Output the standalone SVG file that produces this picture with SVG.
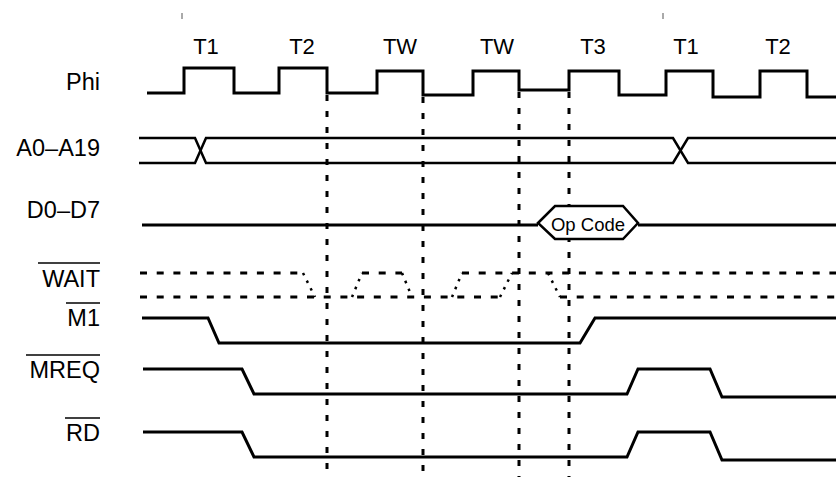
<svg xmlns="http://www.w3.org/2000/svg" width="836" height="477" viewBox="0 0 836 477">
<style>
text{font-family:"Liberation Sans",Arial,sans-serif;fill:#000}
.lbl{font-size:23.5px;text-anchor:end}
.top{font-size:22px;text-anchor:middle}
.sig{fill:none;stroke:#000;stroke-width:3;stroke-linejoin:miter}
.bus{fill:none;stroke:#000;stroke-width:2.5}
.hex{fill:#fff;stroke:#000;stroke-width:2.5}
.vdash{stroke:#000;stroke-width:3;stroke-dasharray:6 10}
.hdash{stroke:#000;stroke-width:3;stroke-dasharray:7 9.7}
.dot{stroke:#000;stroke-width:2.5;stroke-dasharray:2.5 6}
.ov{stroke:#000;stroke-width:1.5}
.tick{stroke:#555;stroke-width:1}
</style>
<g id="cycle-labels">
<line class="tick" x1="182" y1="13" x2="182" y2="19"/>
<line class="tick" x1="663" y1="13" x2="663" y2="19"/>
<text class="top" x="206" y="54">T1</text>
<text class="top" x="302" y="54">T2</text>
<text class="top" x="400" y="54">TW</text>
<text class="top" x="497" y="54">TW</text>
<text class="top" x="593" y="54">T3</text>
<text class="top" x="686" y="54">T1</text>
<text class="top" x="778" y="54">T2</text>
</g>
<g id="connectors">
<line class="vdash" x1="327" y1="95" x2="327" y2="477"/>
<line class="vdash" x1="423" y1="97" x2="423" y2="477"/>
<line class="vdash" x1="519" y1="92" x2="519" y2="477"/>
<line class="vdash" x1="569" y1="92" x2="569" y2="477"/>
</g>
<g id="phi">
<text class="lbl" x="100" y="90">Phi</text>
<path class="sig" d="M147 93 H184 V68 H234 V93 H279 V68 H327 V93 H377 V71 H423 V95 H473 V71 H519 V90 H569 V71 H619 V95 H666 V71 H713 V97 H760 V71 H807 V97 H836"/>
</g>
<g id="address">
<text class="lbl" x="100" y="156">A0–A19</text>
<path class="bus" d="M139 138 H195 L206 163 H673 L688 138 H836"/>
<path class="bus" d="M139 163 H195 L206 138 H673 L688 163 H836"/>
</g>
<g id="data">
<text class="lbl" x="100" y="218">D0–D7</text>
<path class="sig" d="M142 225 H538 M638 225 H836"/>
<path class="hex" d="M538 223 L555 206 H623 L638 223 L623 239 H555 Z"/>
<text x="588" y="231" font-size="18.5" text-anchor="middle">Op Code</text>
</g>
<g id="wait">
<text class="lbl" x="100" y="287">WAIT</text>
<line class="ov" x1="38" y1="263" x2="100" y2="263"/>
<line class="hdash" x1="140" y1="273" x2="303" y2="273"/>
<line class="hdash" x1="362" y1="273" x2="402" y2="273"/>
<line class="hdash" x1="462" y1="273" x2="836" y2="273"/>
<line class="hdash" x1="140" y1="297" x2="500" y2="297"/>
<line class="hdash" x1="560" y1="297" x2="836" y2="297"/>
<line class="dot" x1="303" y1="273" x2="315" y2="297"/>
<line class="dot" x1="352" y1="297" x2="362" y2="273"/>
<line class="dot" x1="402" y1="273" x2="412" y2="297"/>
<line class="dot" x1="452" y1="297" x2="462" y2="273"/>
<line class="dot" x1="500" y1="297" x2="512" y2="273"/>
<line class="dot" x1="548" y1="273" x2="560" y2="297"/>
</g>
<g id="m1">
<text class="lbl" x="100" y="326">M1</text>
<line class="ov" x1="66" y1="303" x2="100" y2="303"/>
<path class="sig" d="M142 318 H208 L219 343 H580 L595 318 H836"/>
</g>
<g id="mreq">
<text class="lbl" x="100" y="378">MREQ</text>
<line class="ov" x1="26" y1="355" x2="100" y2="355"/>
<path class="sig" d="M143 369 H242 L254 394 H627 L638 369 H710 L722 397 H836"/>
</g>
<g id="rd">
<text class="lbl" x="100" y="441">RD</text>
<line class="ov" x1="65" y1="418" x2="100" y2="418"/>
<path class="sig" d="M143 432 H242 L254 457 H627 L638 432 H710 L722 460 H836"/>
</g>
</svg>
